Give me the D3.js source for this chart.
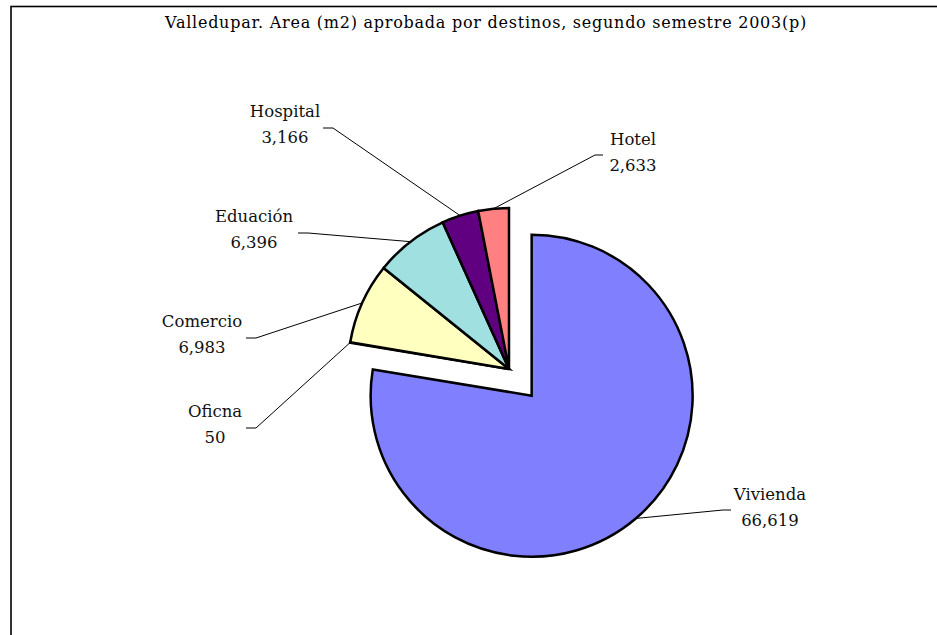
<!DOCTYPE html>
<html>
<head>
<meta charset="utf-8">
<script src="https://cdn.jsdelivr.net/npm/d3@7"></script>
<style>
  html, body { margin: 0; padding: 0; background: #fff; }
  svg { display: block; }
</style>
</head>
<body>
<div id="chart"></div>
<script>
    const width = 937, height = 635;

    // Data
    const categories = ["Vivienda", "Oficna", "Comercio", "Eduación", "Hospital", "Hotel"];
    const values = [66619, 50, 6983, 6396, 3166, 2633];
    const colors = ["#8080FF", "#802060", "#FFFFC0", "#A0E0E0", "#600080", "#FF8080"];
    const exploded = ["Vivienda"];

    const title = "Valledupar. Area (m2) aprobada por destinos, segundo semestre 2003(p)";

    // Layout
    const cx = 509, cy = 369, radius = 161, explodeBy = 35;
    const font = "'DejaVu Serif', serif";
    const fontSize = 16.5;

    // label block centre and where its leader line starts
    const labelLayout = {
        "Vivienda": {x: 770, y: 507, lx: 731, ly: 510},
        "Oficna":   {x: 215, y: 424, lx: 246, ly: 428},
        "Comercio": {x: 202, y: 334, lx: 246, ly: 338},
        "Eduación": {x: 254, y: 229, lx: 298, ly: 233},
        "Hospital": {x: 285, y: 124, lx: 323, ly: 128},
        "Hotel":    {x: 633, y: 152, lx: 603, ly: 155}
    };

    const data = categories.map((c, i) => ({name: c, value: values[i], color: colors[i]}));

    const svg = d3.select("#chart").append("svg")
        .attr("width", width)
        .attr("height", height);

    svg.append("rect").attr("width", width).attr("height", height).attr("fill", "#fff");

    // chart frame, runs past the right and bottom edges
    svg.append("rect")
        .attr("x", 11).attr("y", 6.5)
        .attr("width", width + 50).attr("height", height + 50)
        .attr("fill", "none")
        .attr("stroke", "#000")
        .attr("stroke-width", 1.6);

    svg.append("text")
        .attr("x", 486).attr("y", 28)
        .attr("text-anchor", "middle")
        .attr("font-family", font)
        .attr("font-size", 16)
        .attr("letter-spacing", 0.75)
        .attr("fill", "#000")
        .text(title);

    const pie = d3.pie().sort(null).value(d => d.value);
    const arcs = pie(data);

    const arc = d3.arc().innerRadius(0).outerRadius(radius);
    const rim = d3.arc().innerRadius(radius).outerRadius(radius);

    const offset = d => {
        if (!exploded.includes(d.data.name)) return [0, 0];
        const a = (d.startAngle + d.endAngle) / 2;
        return [Math.sin(a) * explodeBy, -Math.cos(a) * explodeBy];
    };

    const g = svg.append("g").attr("transform", `translate(${cx},${cy})`);

    // Slices
    g.selectAll("path.slice")
        .data(arcs)
        .enter()
        .append("path")
        .attr("class", "slice")
        .attr("d", arc)
        .attr("transform", d => `translate(${offset(d)})`)
        .attr("fill", d => d.data.color)
        .attr("stroke", "#000")
        .attr("stroke-width", 2.5)
        .attr("stroke-linejoin", "miter");

    // Leader lines
    g.selectAll("polyline")
        .data(arcs)
        .enter()
        .append("polyline")
        .attr("points", d => {
            const L = labelLayout[d.data.name];
            const [ox, oy] = offset(d);
            const [px, py] = rim.centroid(d);
            const sx = L.lx - cx, sy = L.ly - cy;
            const ex = sx + (L.lx < cx ? 10 : -8);
            return [[sx, sy], [ex, sy], [px + ox, py + oy]].map(p => p.join(",")).join(" ");
        })
        .attr("fill", "none")
        .attr("stroke", "#000")
        .attr("stroke-width", 1);

    // Labels
    const labels = svg.append("g")
        .selectAll("text")
        .data(arcs)
        .enter()
        .append("text")
        .attr("text-anchor", "middle")
        .attr("font-family", font)
        .attr("font-size", fontSize)
        .attr("fill", "#111");

    labels.append("tspan")
        .attr("x", d => labelLayout[d.data.name].x)
        .attr("y", d => labelLayout[d.data.name].y - 7)
        .text(d => d.data.name);

    labels.append("tspan")
        .attr("x", d => labelLayout[d.data.name].x)
        .attr("y", d => labelLayout[d.data.name].y + 19)
        .text(d => d3.format(",")(d.data.value));
</script>
</body>
</html>
